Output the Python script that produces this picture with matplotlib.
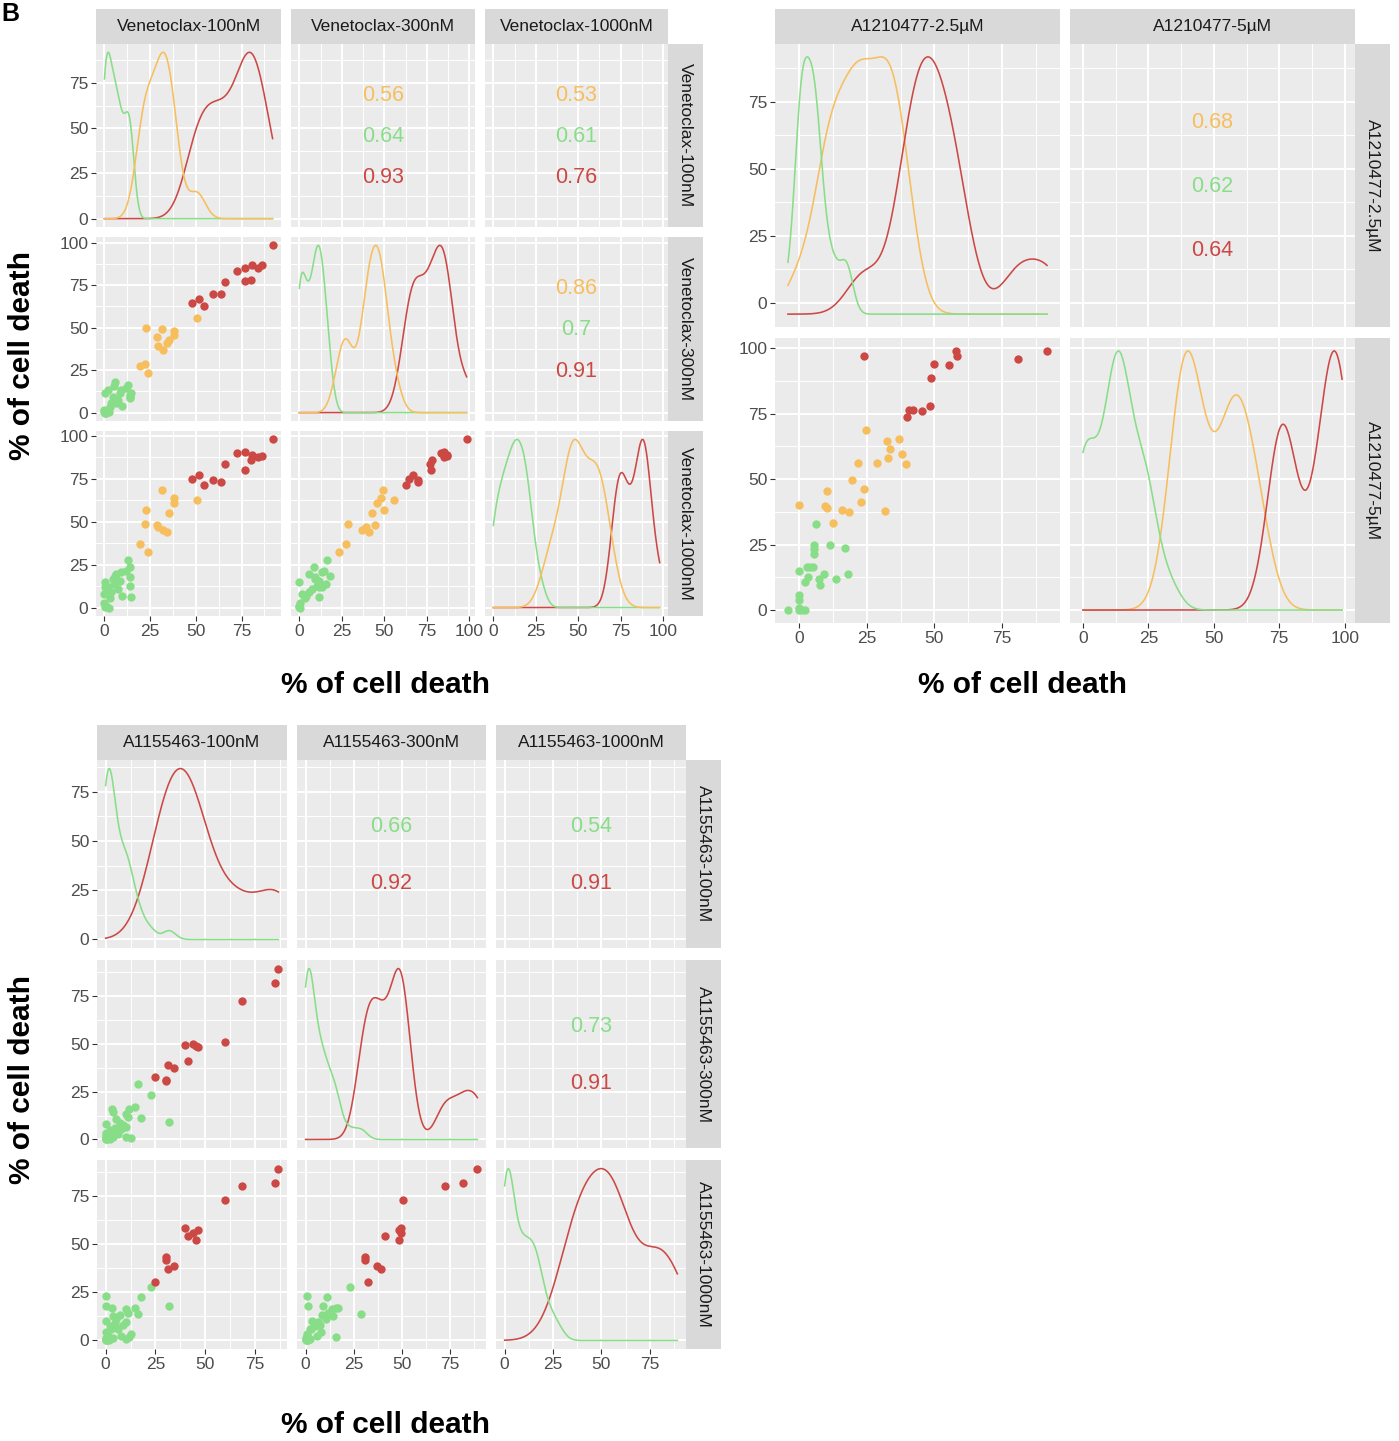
import numpy as np
import matplotlib
matplotlib.use("Agg")
import matplotlib.pyplot as plt
from matplotlib.ticker import MultipleLocator

plt.rcParams['font.family'] = ['Liberation Sans', 'DejaVu Sans']

# ---------------- colours ----------------
GREEN = '#88DE88'
ORANGE = '#F7BE5E'
RED = '#CC4845'

# ---------------- Venetoclax ----------------
VEN_LABELS = ['Venetoclax-100nM', 'Venetoclax-300nM', 'Venetoclax-1000nM']
ven_green_100 = [0.3, 0.0, 0.0, 1.0, 2.4, 2.8, 4.6, 6.4, 9.2, 11.9, 12.8, 13.8,
                 14.2, 13.8, 14.7, 9.5, 7.3, 5.5, 8.3, 3.7, 1.8, 0.5, 5.9, 0.4]
ven_green_300 = [0.0, 1.5, 0.5, 0.0, 0.6, 3.5, 9.4, 5.5, 13.4, 14.3, 16.3, 8.4,
                 9.4, 10.4, 11.4, 3.9, 7.5, 15.4, 11.4, 5.5, 13.4, 0.0, 18.3, 11.8]
ven_green_1000 = [14.7, 7.8, 2.9, 1.0, 0.0, 5.5, 16.7, 19.6, 20.6, 21.2, 27.5, 23.5,
                  17.6, 12.7, 5.9, 6.5, 10.8, 13.7, 15.7, 8.8, 11.8, 0.5, 18.6, 11.8]
ven_orange_100 = [50.6, 31.3, 38.3, 37.8, 22.6, 35.2, 22.0, 28.5, 29.4, 32.2, 34.0, 19.4, 23.7]
ven_orange_300 = [55.7, 49.2, 47.8, 45.9, 49.8, 42.9, 28.5, 44.3, 39.4, 37.0, 40.9, 27.6, 23.2]
ven_orange_1000 = [62.7, 68.6, 63.7, 60.8, 56.9, 54.9, 48.8, 48.0, 47.1, 45.1, 44.1, 36.9, 32.4]
ven_red_100 = [92.0, 86.0, 84.0, 81.0, 76.7, 72.6, 76.9, 80.4, 65.7, 59.6, 63.7, 48.1, 51.9, 54.4]
ven_red_300 = [98.4, 87.0, 85.0, 87.0, 85.2, 83.3, 77.4, 78.3, 76.8, 69.9, 69.5, 64.6, 67.1, 62.6]
ven_red_1000 = [98.0, 88.4, 88.0, 89.0, 90.8, 90.2, 80.0, 86.0, 83.7, 74.5, 73.1, 74.9, 77.1, 71.2]
# correlations shown in upper panels (1,2), (1,3), (2,3)
VEN_COR_ORANGE = [0.56, 0.53, 0.86]
VEN_COR_GREEN = [0.64, 0.61, 0.70]
VEN_COR_RED = [0.93, 0.76, 0.91]

# ---------------- A1210477 ----------------
A121_LABELS = ['A1210477-2.5µM', 'A1210477-5µM']
a121_red_25 = [24.1, 50.0, 48.9, 58.1, 58.4, 55.4, 80.9, 91.7, 48.4, 45.5, 40.7, 42.0, 39.8]
a121_red_5 = [97.1, 93.9, 88.5, 98.9, 97.2, 93.5, 96.0, 99.0, 77.8, 75.9, 76.6, 76.6, 73.8]
a121_orange_25 = [24.8, 37.0, 32.4, 33.7, 38.0, 33.0, 28.7, 21.9, 39.5, 19.4, 24.1, 10.1,
                  22.7, 0.0, 9.4, 10.3, 15.7, 18.4, 31.7, 12.5]
a121_orange_5 = [68.9, 65.4, 64.7, 61.5, 59.5, 58.0, 56.3, 56.3, 55.7, 49.7, 46.1, 45.6,
                 41.1, 40.3, 39.7, 39.1, 38.4, 37.5, 37.8, 33.3]
a121_green_25 = [6.3, 5.5, 5.5, 5.5, 11.2, 16.9, 0.0, 2.9, 4.1, 5.1, 3.2, 2.0, 9.1, 13.4,
                 18.1, 7.2, 7.8, 0.0, 0.0, -4.2, 0.0, 1.0, 2.2, 0.0]
a121_green_5 = [32.7, 25.0, 23.4, 21.3, 25.0, 23.7, 14.9, 16.4, 16.4, 16.4, 12.5, 10.6, 13.8,
                11.7, 13.6, 11.7, 9.6, 5.8, 3.8, 0.0, 0.6, 0.0, 0.0, 0.0]
A121_COR_ORANGE = [0.68]
A121_COR_GREEN = [0.62]
A121_COR_RED = [0.64]

# ---------------- A1155463 ----------------
A115_LABELS = ['A1155463-100nM', 'A1155463-300nM', 'A1155463-1000nM']
a115_red_100 = [86.7, 85.0, 68.5, 59.8, 39.9, 43.8, 46.6, 45.5, 41.2, 31.5, 34.5, 30.3, 30.3, 24.6]
a115_red_300 = [89.3, 81.8, 72.6, 50.8, 49.5, 49.8, 48.3, 48.8, 41.1, 39.1, 37.3, 30.7, 31.0, 32.5]
a115_red_1000 = [89.3, 81.6, 80.2, 72.9, 58.5, 55.7, 57.5, 52.4, 54.3, 37.1, 38.8, 43.6, 41.9, 30.5]
a115_green_100 = [0.0, 0.0, 17.7, 22.6, 31.9, 16.3, 14.6, 3.2, 10.4, 11.0, 7.1, 5.4, 0.3, 0.3, 8.8,
                  4.5, 2.0, 2.9, 1.2, 3.7, 0.0, 2.0, 7.9, 10.4, 12.8, 6.2, 3.7, 10.4, 1.0, 11.5,
                  0.2, 0.5, 1.5, 0.0, 0.8, 0.3]
a115_green_300 = [0.5, 1.0, 11.0, 23.1, 9.2, 29.0, 16.7, 16.0, 13.5, 11.5, 8.5, 10.5, 3.5, 8.0, 7.5,
                  6.0, 4.9, 2.3, 0.5, 1.4, 2.3, 0.3, 5.7, 1.4, 0.5, 3.0, 14.4, 6.6, 1.0, 16.0,
                  0.3, 0.0, 0.8, 0.2, 1.5, 0.6]
a115_green_1000 = [22.9, 18.1, 22.8, 27.8, 17.9, 13.8, 16.6, 16.9, 16.5, 14.3, 13.0, 11.2, 10.2, 4.3,
                   7.9, 9.1, 7.4, 5.7, 2.2, 1.4, 0.5, 0.5, 2.2, 0.5, 3.1, 5.7, 12.5, 9.5, 1.0, 2.0,
                   0.2, 0.8, 0.0, 1.5, 0.3, 0.0]
A115_COR_GREEN = [0.66, 0.54, 0.73]
A115_COR_RED = [0.92, 0.91, 0.91]

# ---------------- figure ----------------
W, H = 1399, 1441
fig = plt.figure(figsize=(W / 100, H / 100), dpi=100)
fig.patch.set_facecolor('white')


def scaled_density(vals, lo, hi, n=512):
    v = np.asarray(vals, float)
    sd = v.std(ddof=1)
    q75, q25 = np.percentile(v, [75, 25])
    lim = min(sd, (q75 - q25) / 1.34)
    if lim <= 0:
        lim = sd
    bw = 0.9 * lim * len(v) ** (-0.2)
    grid = np.linspace(lo, hi, n)
    d = np.exp(-0.5 * ((grid[:, None] - v[None, :]) / bw) ** 2).sum(axis=1)
    return grid, d / d.max()


def px_axes(x0, x1, y0, y1):
    return fig.add_axes([x0 / W, 1 - y1 / H, (x1 - x0) / W, (y1 - y0) / H])


def style(ax, xl, yl, left, bottom):
    ax.set_facecolor('#EBEBEB')
    for s in ax.spines.values():
        s.set_visible(False)
    ax.set_xlim(xl)
    ax.set_ylim(yl)
    for axis in (ax.xaxis, ax.yaxis):
        axis.set_major_locator(MultipleLocator(25))
        axis.set_minor_locator(MultipleLocator(12.5))
    ax.grid(True, which='major', color='white', lw=1.4)
    ax.grid(True, which='minor', color='white', lw=0.7)
    ax.set_axisbelow(True)
    ax.tick_params(which='minor', length=0)
    ax.tick_params(which='major', width=0.8, color='#333333', labelcolor='#4D4D4D',
                   labelsize=12.5, pad=2)
    ax.tick_params(axis='x', labelbottom=bottom, length=3.5 if bottom else 0)
    ax.tick_params(axis='y', labelleft=left, length=3.5 if left else 0)


def strip(x0, x1, y0, y1, label, rot=0):
    sax = px_axes(x0, x1, y0, y1)
    sax.set_facecolor('#D9D9D9')
    for s in sax.spines.values():
        s.set_visible(False)
    sax.set_xticks([])
    sax.set_yticks([])
    sax.text(0.5, 0.5, label, transform=sax.transAxes, ha='center', va='center',
             rotation=rot, color='#1A1A1A', fontsize=12.5)


def block(labels, groups, cols, rows, strip_y, strip_x, cor_sets, cor_fracs, dens_order):
    n = len(labels)
    allv = [np.concatenate([np.asarray(g[1][k], float) for g in groups]) for k in range(n)]
    rng = [(a.min(), a.max()) for a in allv]
    lims = [(lo - 0.05 * (hi - lo), hi + 0.05 * (hi - lo)) for lo, hi in rng]
    upper = [(r, c) for r in range(n) for c in range(r + 1, n)]
    for r in range(n):
        for c in range(n):
            x0, x1 = cols[c]
            y0, y1 = rows[r]
            ax = px_axes(x0, x1, y0, y1)
            style(ax, lims[c], lims[r], left=(c == 0), bottom=(r == n - 1))
            if r == c:
                lo, hi = rng[r]
                for gi in dens_order:
                    color, vars_ = groups[gi]
                    g, d = scaled_density(vars_[r], lo, hi)
                    ax.plot(g, lo + d * (hi - lo), color=color, lw=1.15, zorder=2)
            elif r > c:
                for color, vars_ in groups:
                    ax.scatter(vars_[c], vars_[r], s=36, color=color, lw=0, zorder=3,
                               clip_on=False)
            else:
                k = upper.index((r, c))
                for (vals, color), fy in zip(cor_sets, cor_fracs):
                    ax.text(0.5, fy, f"{vals[k]:g}", transform=ax.transAxes,
                            ha='center', va='center', color=color, fontsize=15.5)
    for c in range(n):
        strip(cols[c][0], cols[c][1], strip_y[0], strip_y[1], labels[c])
    for r in range(n):
        strip(strip_x[0], strip_x[1], rows[r][0], rows[r][1], labels[r], rot=-90)


# Venetoclax block
block(VEN_LABELS,
      [(GREEN, [ven_green_100, ven_green_300, ven_green_1000]),
       (ORANGE, [ven_orange_100, ven_orange_300, ven_orange_1000]),
       (RED, [ven_red_100, ven_red_300, ven_red_1000])],
      cols=[(96, 281), (291, 475), (485, 668)],
      rows=[(44, 227), (237, 421), (431, 616)],
      strip_y=(9, 44), strip_x=(668, 703),
      cor_sets=[(VEN_COR_ORANGE, ORANGE), (VEN_COR_GREEN, GREEN), (VEN_COR_RED, RED)],
      cor_fracs=[0.72, 0.495, 0.27],
      dens_order=[2, 0, 1])

# A1210477 block
block(A121_LABELS,
      [(GREEN, [a121_green_25, a121_green_5]),
       (ORANGE, [a121_orange_25, a121_orange_5]),
       (RED, [a121_red_25, a121_red_5])],
      cols=[(775, 1060), (1070, 1355)],
      rows=[(44, 327), (338, 623)],
      strip_y=(9, 44), strip_x=(1355, 1390),
      cor_sets=[(A121_COR_ORANGE, ORANGE), (A121_COR_GREEN, GREEN), (A121_COR_RED, RED)],
      cor_fracs=[0.724, 0.495, 0.269],
      dens_order=[1, 2, 0])

# A1155463 block
block(A115_LABELS,
      [(GREEN, [a115_green_100, a115_green_300, a115_green_1000]),
       (RED, [a115_red_100, a115_red_300, a115_red_1000])],
      cols=[(97, 287), (297, 486), (496, 686)],
      rows=[(760, 948), (960, 1148), (1160, 1349)],
      strip_y=(725, 760), strip_x=(686, 721),
      cor_sets=[(A115_COR_GREEN, GREEN), (A115_COR_RED, RED)],
      cor_fracs=[0.647, 0.342],
      dens_order=[1, 0])

TITLE = '% of cell death'
tkw = dict(ha='center', va='center', fontsize=21.5, weight='bold', color='black')
fig.text(385 / W, 1 - 685 / H, TITLE, **tkw)
fig.text(22 / W, 1 - 355 / H, TITLE, rotation=90, **tkw)
fig.text(1023 / W, 1 - 685 / H, TITLE, **tkw)
fig.text(385 / W, 1 - 1425 / H, TITLE, **tkw)
fig.text(22 / W, 1 - 1080 / H, TITLE, rotation=90, **tkw)
fig.text(1 / W, 1 - 2 / H, 'B', ha='left', va='top', fontsize=18, weight='bold')

fig.savefig('out.png', dpi=100, facecolor='white')
